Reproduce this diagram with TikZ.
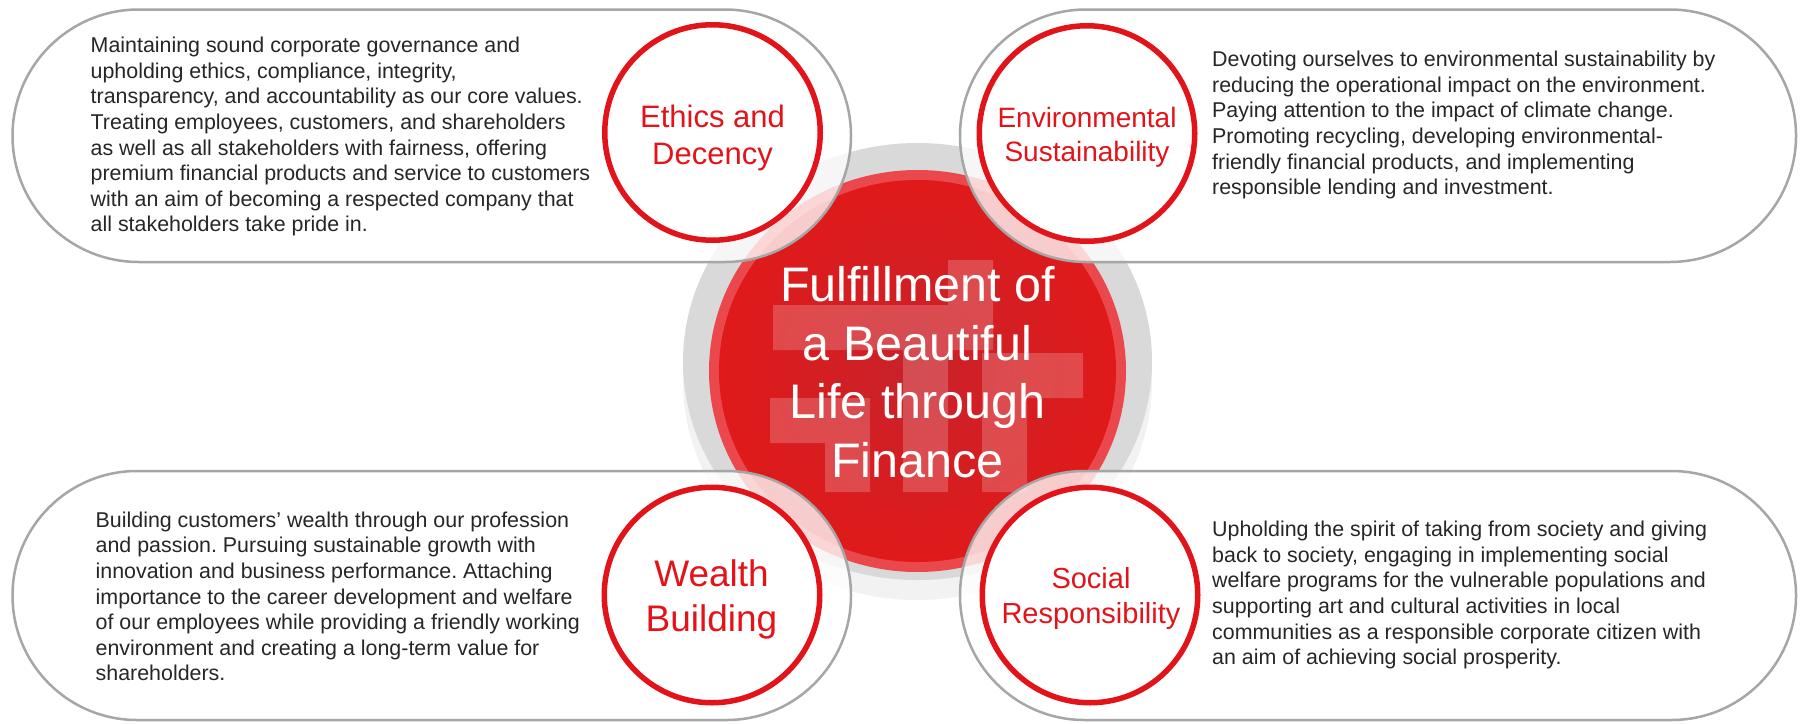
\documentclass[tikz,border=0pt]{standalone}
\usepackage{fontspec}
\setmainfont{Liberation Sans}
\usetikzlibrary{shapes.misc}
\definecolor{ringred}{RGB}{226,20,26}
\definecolor{pillgray}{RGB}{166,166,166}
\definecolor{bodytext}{RGB}{38,38,38}
\definecolor{halogray}{RGB}{217,217,217}
\definecolor{shadowgray}{RGB}{242,242,242}
\definecolor{rimred}{RGB}{234,72,76}
\definecolor{discred}{RGB}{224,26,26}
\definecolor{discdark}{RGB}{200,34,42}
\frenchspacing
\begin{document}
\begin{tikzpicture}[x=1pt,y=-1pt,
  pill/.style={rounded rectangle, draw=pillgray, line width=2.5pt, fill=white, fill opacity=0.78, inner sep=0pt, outer sep=0pt},
  ring/.style={circle, draw=ringred, line width=5.5pt, fill=white, minimum size=215.5pt, inner sep=0pt, outer sep=0pt},
  lbl/.style={text=ringred, align=center, inner sep=0pt, anchor=north},
  body/.style={text=bodytext, align=left, inner sep=0pt, anchor=north west, font=\fontsize{21.4}{25.6}\selectfont},
  coretext/.style={text=white, align=center, inner sep=0pt, anchor=north, font=\fontsize{48.5}{58.4}\selectfont}
]
\useasboundingbox (0,0) rectangle (1801,723);
\fill[white] (0,0) rectangle (1801,723);

% central disc
\fill[shadowgray] (917.5,381.5) ellipse [x radius=234.5pt, y radius=218.5pt];
\fill[halogray] (917.5,361.5) ellipse [x radius=234.5pt, y radius=218.5pt];
\fill[rimred] (917.5,371) ellipse [x radius=208.5pt, y radius=201pt];
\shade[inner color=discdark, outer color=discred] (917.5,371) ellipse [x radius=198.5pt, y radius=191pt];
\fill[white, fill opacity=0.2]
  (948,260) rectangle (993,305)
  (773,305) rectangle (993,350)
  (903,350) rectangle (948,492)
  (770,398) rectangle (870,443)
  (825,398) rectangle (870,492)
  (982,353) rectangle (1083,398)
  (982,353) rectangle (1027,492);

% pills
\node[pill, minimum width=838.5pt, minimum height=252.5pt] (tlpill) at (431.75,135.75) {};
\node[pill, minimum width=836pt, minimum height=252.5pt] (trpill) at (1378,135.75) {};
\node[pill, minimum width=838.5pt, minimum height=249pt] (blpill) at (431.75,595.5) {};
\node[pill, minimum width=836pt, minimum height=249pt] (brpill) at (1378,595.5) {};

% rings
\node[ring] (ethics) at (712.5,132.5) {};
\node[ring] (env) at (1087,133.5) {};
\node[ring] (wealth) at (712,595) {};
\node[ring] (social) at (1090,595) {};

\node[lbl, font=\fontsize{31}{36.7}\selectfont] (ethicsT) at (712.5,99.4) {\rule{0pt}{27.9pt}Ethics and\\Decency};
\node[lbl, font=\fontsize{28}{34.4}\selectfont] (envT) at (1087,102.1) {\rule{0pt}{25.2pt}Environmental\\Sustainability};
\node[lbl, font=\fontsize{37}{45}\selectfont] (wealthT) at (711.5,553.4) {\rule{0pt}{33.3pt}Wealth\\Building};
\node[lbl, font=\fontsize{29}{35}\selectfont] (socialT) at (1091,562.2) {\rule{0pt}{26.1pt}Social\\Responsibility};

% body texts
\node[body] (tltext) at (90.5,33.2) {\rule{0pt}{19.3pt}Maintaining sound corporate governance and\\
upholding ethics, compliance, integrity,\\
transparency, and accountability as our core values.\\
Treating employees, customers, and shareholders\\
as well as all stakeholders with fairness, offering\\
premium financial products and service to customers\\
with an aim of becoming a respected company that\\
all stakeholders take pride in.};

\node[body] (trtext) at (1212,47.2) {\rule{0pt}{19.3pt}Devoting ourselves to environmental sustainability by\\
reducing the operational impact on the environment.\\
Paying attention to the impact of climate change.\\
Promoting recycling, developing environmental-\\
friendly financial products, and implementing\\
responsible lending and investment.};

\node[body] (bltext) at (95.5,507.7) {\rule{0pt}{19.3pt}Building customers’ wealth through our profession\\
and passion. Pursuing sustainable growth with\\
innovation and business performance. Attaching\\
importance to the career development and welfare\\
of our employees while providing a friendly working\\
environment and creating a long-term value for\\
shareholders.};

\node[body] (brtext) at (1212,517.2) {\rule{0pt}{19.3pt}Upholding the spirit of taking from society and giving\\
back to society, engaging in implementing social\\
welfare programs for the vulnerable populations and\\
supporting art and cultural activities in local\\
communities as a responsible corporate citizen with\\
an aim of achieving social prosperity.};

% central text
\node[coretext] (core) at (917.5,258.05) {\rule{0pt}{43.65pt}Fulfillment of\\a Beautiful\\Life through\\Finance};
\end{tikzpicture}
\end{document}
